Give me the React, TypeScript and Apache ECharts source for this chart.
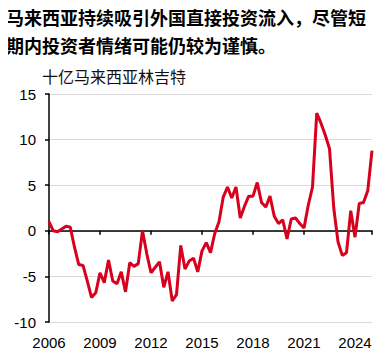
import React, { useEffect, useRef } from "react";
import * as echarts from "echarts";

const titleText = "马来西亚持续吸引外国直接投资流入，尽管短\n期内投资者情绪可能仍较为谨慎。";
const unitText = "十亿马来西亚林吉特";
const startYear = 2006; // first quarter 2006Q1
const fdiValues = [
  1.0, 0.0, -0.1, 0.2, 0.5, 0.4, -1.8, -3.7, -3.8, -5.5, -7.3, -6.8, -4.6, -5.7, -3.2, -5.5,
  -5.8, -4.5, -6.7, -3.5, -3.9, -3.6, 0.0, -2.5, -4.6, -4.0, -3.4, -6.2, -4.5, -7.7, -7.0, -1.6,
  -4.2, -3.3, -3.0, -4.5, -2.2, -1.3, -2.4, -0.3, 1.0, 3.7, 4.8, 3.6, 4.8, 1.4, 2.7, 3.8,
  3.8, 5.3, 3.1, 2.6, 3.8, 1.6, 0.8, 1.2, -0.9, 1.3, 1.4, 0.8, 0.3, 2.8, 4.8, 12.9,
  11.8, 10.5, 9.0, 2.5, -1.2, -2.7, -2.4, 2.2, -0.7, 3.0, 3.1, 4.4, 8.8,
];
const xMin = 2006;
const xMax = 2025;
const xInterval = 3;
const yMin = -10;
const yMax = 15;
const yInterval = 5;

const FONT = "'Liberation Sans', Arial, sans-serif";
const CJK = "'Noto Sans CJK SC', sans-serif";

export default function App() {
  const ref = useRef<HTMLDivElement>(null);
  useEffect(() => {
    if (!ref.current) return;
    const chart = echarts.init(ref.current, null, { renderer: "svg" });
    const data = fdiValues.map((v, i) => [startYear + i / 4, v]);
    chart.setOption({
      animation: false,
      graphic: [
        {
          type: "text",
          x: 6,
          y: 3,
          style: {
            text: titleText,
            fontFamily: CJK,
            fontSize: 18,
            fontWeight: "bold",
            fill: "#000",
            lineHeight: 28,
          },
        },
        {
          type: "text",
          x: 42,
          y: 67,
          style: { text: unitText, fontFamily: CJK, fontSize: 16, fill: "#111", lineHeight: 18 },
        },
      ],
      grid: { left: 49, right: 18, top: 94, bottom: 35 },
      xAxis: [
        {
          type: "value",
          min: xMin,
          max: xMax,
          interval: xInterval,
          position: "bottom",
          axisLine: { show: false, onZero: false },
          axisTick: { show: false },
          splitLine: { show: false },
          axisLabel: {
            showMaxLabel: false,
            margin: 13,
            fontFamily: FONT,
            fontSize: 15,
            color: "#000",
            formatter: (v: number) => String(v),
          },
        },
        {
          type: "value",
          min: xMin,
          max: xMax,
          interval: xInterval,
          position: "bottom",
          axisLine: { show: true, onZero: true, lineStyle: { color: "#000", width: 1.5 } },
          axisTick: { show: true, inside: false, length: 4, lineStyle: { color: "#000", width: 1.5 } },
          axisLabel: { show: false },
          splitLine: { show: false },
        },
      ],
      yAxis: {
        type: "value",
        min: yMin,
        max: yMax,
        interval: yInterval,
        axisLine: { show: true, lineStyle: { color: "#000", width: 1.5 } },
        axisTick: { show: true, length: 4, lineStyle: { color: "#000", width: 1.5 } },
        axisLabel: { margin: 13, fontFamily: FONT, fontSize: 15, color: "#000" },
        splitLine: { show: true, lineStyle: { color: "#d9d9d9", width: 1 } },
      },
      series: [
        {
          type: "line",
          data,
          xAxisIndex: 0,
          showSymbol: false,
          symbol: "none",
          lineStyle: { color: "#d7001e", width: 3 },
          z: 3,
        },
      ],
    });
    return () => chart.dispose();
  }, []);
  return <div ref={ref} style={{ width: 390, height: 357, margin: -8 }} />;
}
